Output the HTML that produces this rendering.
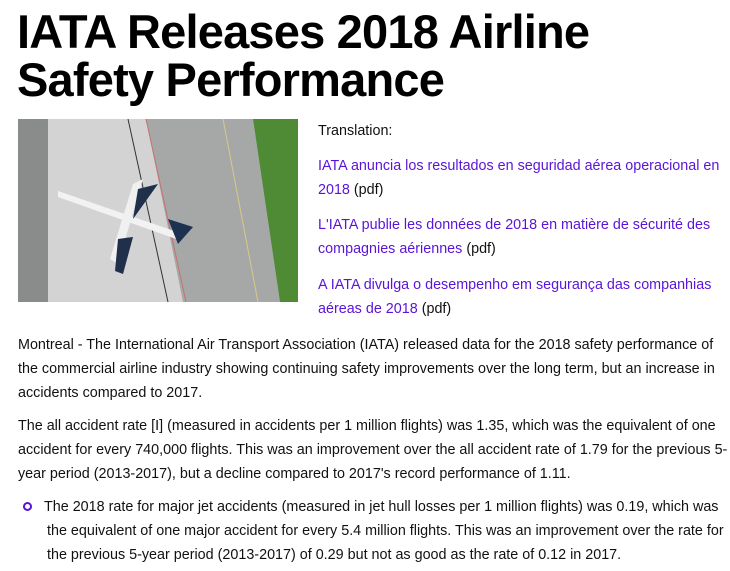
<!DOCTYPE html>
<html><head><meta charset="utf-8"><style>
body{margin:0;width:730px;height:571px;background:#fff;overflow:hidden;position:relative;font-family:"Liberation Sans",sans-serif;color:#111}
.t{position:absolute;left:17px;font-weight:bold;font-size:47px;letter-spacing:-0.8px;white-space:nowrap;color:#000;line-height:48px}
.l{position:absolute;white-space:nowrap;font-size:14.35px;line-height:18px}
a{color:#5a14d8;text-decoration:none}
.img{position:absolute;left:18px;top:119px;width:280px;height:183px;overflow:hidden;background:#cfd0cf}
</style></head><body>
<div class="t" style="top:8px">IATA Releases 2018 Airline</div>
<div class="t" style="top:56px">Safety Performance</div>
<div class="img"><svg width="280" height="183">
<rect width="280" height="183" fill="#d2d3d2"/>
<rect x="0" y="0" width="30" height="183" fill="#8a8c8c"/>
<polygon points="128,0 235,0 262,183 165,183" fill="#a6a8a8"/>
<polygon points="235,0 280,0 280,183 262,183" fill="#4f8a35"/>
<line x1="128" y1="0" x2="168" y2="183" stroke="#c97070" stroke-width="1"/>
<line x1="110" y1="0" x2="150" y2="183" stroke="#333" stroke-width="1"/>
<line x1="205" y1="0" x2="240" y2="183" stroke="#d8c98a" stroke-width="1"/>
<polygon points="40,72 165,115 158,120 40,78" fill="#f2f2f2"/>
<polygon points="115,65 125,60 100,145 92,140" fill="#f0f0f0"/>
<polygon points="120,70 140,65 115,100" fill="#20304a"/>
<polygon points="100,120 115,118 105,155 97,152" fill="#20304a"/>
<polygon points="150,100 175,108 160,125" fill="#1d3150"/>
</svg></div>
<div class="l" style="left:318px;top:122px">Translation:</div>
<div class="l" style="left:318px;top:157px"><a>IATA anuncia los resultados en seguridad aérea operacional en</a></div>
<div class="l" style="left:318px;top:181px"><a>2018</a> (pdf)</div>
<div class="l" style="left:318px;top:216px"><a>L'IATA publie les données de 2018 en matière de sécurité des</a></div>
<div class="l" style="left:318px;top:240px"><a>compagnies aériennes</a> (pdf)</div>
<div class="l" style="left:318px;top:276px"><a>A IATA divulga o desempenho em segurança das companhias</a></div>
<div class="l" style="left:318px;top:300px"><a>aéreas de 2018</a> (pdf)</div>
<div class="l" style="left:18px;top:336px">Montreal - The International Air Transport Association (IATA) released data for the 2018 safety performance of</div>
<div class="l" style="left:18px;top:360px">the commercial airline industry showing continuing safety improvements over the long term, but an increase in</div>
<div class="l" style="left:18px;top:384px">accidents compared to 2017.</div>
<div class="l" style="left:18px;top:417px">The all accident rate [I] (measured in accidents per 1 million flights) was 1.35, which was the equivalent of one</div>
<div class="l" style="left:18px;top:441px">accident for every 740,000 flights. This was an improvement over the all accident rate of 1.79 for the previous 5-</div>
<div class="l" style="left:18px;top:465px">year period (2013-2017), but a decline compared to 2017's record performance of 1.11.</div>
<div style="position:absolute;left:23px;top:502px;width:5px;height:5px;border:2.5px solid #5a14d8;border-radius:50%"></div>
<div class="l" style="left:44px;top:498px">The 2018 rate for major jet accidents (measured in jet hull losses per 1 million flights) was 0.19, which was</div>
<div class="l" style="left:47px;top:522px">the equivalent of one major accident for every 5.4 million flights. This was an improvement over the rate for</div>
<div class="l" style="left:47px;top:546px">the previous 5-year period (2013-2017) of 0.29 but not as good as the rate of 0.12 in 2017.</div>
</body></html>
